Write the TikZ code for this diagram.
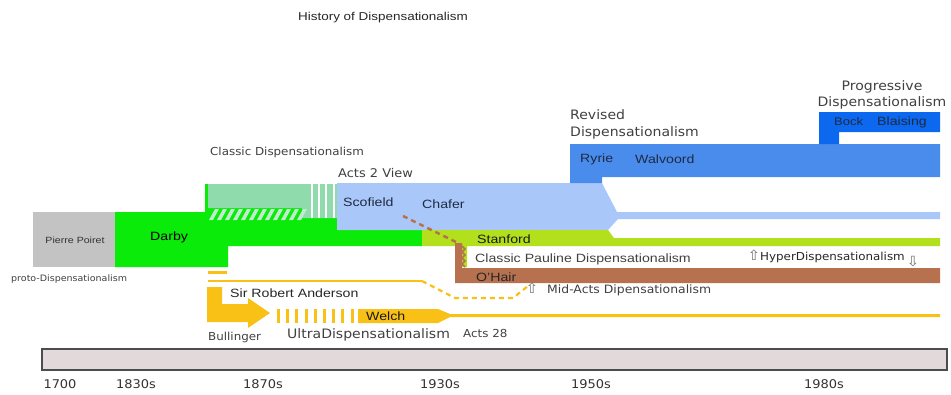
\documentclass[tikz,border=0pt]{standalone}
\usepackage{fontspec}
\setmainfont{Liberation Sans}[FakeStretch=1.18]
\newfontfamily\dvs{DejaVu Sans}[FakeStretch=1.08]
\newcommand{\fsz}[1]{\fontsize{#1}{#1}\selectfont}
\newcommand{\upar}{{\dvs\fsz{14}⇧}}
\newcommand{\dnar}{{\dvs\fsz{14}⇩}}
\definecolor{poiret}{HTML}{C3C3C3}
\definecolor{darby}{HTML}{0AEB0A}
\definecolor{classic}{HTML}{8FDBAB}
\definecolor{scofield}{HTML}{A9C8F9}
\definecolor{ryrie}{HTML}{4A8CEB}
\definecolor{progr}{HTML}{0C68EE}
\definecolor{stanford}{HTML}{B3E01C}
\definecolor{ohair}{HTML}{B7714E}
\definecolor{gold}{HTML}{F9C116}
\definecolor{timebar}{HTML}{E2DADA}
\definecolor{navy}{HTML}{1E2A44}

\begin{document}
\begin{tikzpicture}[x=1pt,y=-1pt]
                        \tikzstyle{lab}=[inner sep=0pt, anchor=west, font=\fsz{12}, text=black!85]
                        \tikzstyle{dlab}=[inner sep=0pt, anchor=west, font=\dvs\fsz{11}, text=black!75]
                        \tikzstyle{year}=[inner sep=0pt, font=\dvs\fsz{12}, text=black!80]
                        \tikzstyle{yel}=[draw=gold, line width=2.2pt]
                        \useasboundingbox (0,0) rectangle (951,394);
                        \node[inner sep=0pt, font=\fsz{11.4}, text=black!85] (title) at (383,18) {History of Dispensationalism};

                        \fill[poiret] (33,212) rectangle (115,267);
                        \fill[darby] (115,212) -- (205,212) -- (205,184) -- (337,184) -- (337,230) -- (422,230)
                            -- (422,246) -- (228,246) -- (228,267) -- (115,267) -- cycle;
                        \fill[classic] (208,184) -- (337,184) -- (337,218) -- (302,218) -- (302,208) -- (208,208) -- cycle;
                        \foreach \i in {0,...,11}
                            \fill[classic!55!white] (209+8*\i,220) -- (213+8*\i,220) -- (219+8*\i,209) -- (215+8*\i,209) -- cycle;
                        \foreach \x in {312,319,326,334}
                            \draw[white, line width=1.2pt] (\x,184) -- (\x,218);
                        \fill[scofield] (337,183) -- (602,183) -- (617,212) -- (940,212) -- (940,219) -- (618,219)
                            -- (608,230) -- (337,230) -- cycle;
                        \fill[stanford] (422,230) -- (608,230) -- (614,238) -- (940,238) -- (940,246) -- (467,246)
                            -- (467,267) -- (461,267) -- (461,246) -- (422,246) -- cycle;
                        \fill[ohair] (455,243) -- (462,243) -- (462,268) -- (940,268) -- (940,283) -- (455,283) -- cycle;
                        \draw[ohair, line width=1.5pt] (462,246) -- (465,249) -- (462,252) -- (465,255) -- (462,258)
                            -- (465,261) -- (462,264) -- (465,267);
                        \fill[ryrie] (570,144) -- (940,144) -- (940,177) -- (602,177) -- (602,183) -- (570,183) -- cycle;
                        \fill[progr] (819,112) -- (940,112) -- (940,132) -- (839,132) -- (839,144) -- (819,144) -- cycle;

                        \coordinate (chafer end) at (403,216);
                        \coordinate (ohair top) at (458,243);
                        \draw[ohair, line width=2.5pt, dash pattern=on 5pt off 4pt] (chafer end) -- (ohair top);

                        \draw[yel, line width=3pt] (208,272) -- (227,272);
                        \coordinate (anderson start) at (208,281);
                        \coordinate (anderson end) at (422,281);
                        \coordinate (midacts) at (528,286);
                        \draw[yel] (anderson start) -- (anderson end);
                        \draw[yel, dash pattern=on 5pt off 4pt] (anderson end) -- (455,298) -- (513,298) -- (midacts);
                        \fill[gold] (207,287) -- (222,287) -- (222,304) -- (248,304) -- (248,298) -- (270,313)
                            -- (248,328) -- (248,322) -- (207,322) -- cycle;
                        \foreach \i in {0,...,8}
                            \fill[gold] (277+9.2*\i,309) rectangle (280+9.2*\i,323);
                        \fill[gold] (358,309) -- (438,309) -- (450,314) -- (940,314) -- (940,317) -- (450,317)
                            -- (438,323) -- (358,323) -- cycle;

                        \draw[line width=2pt, draw=black!70, fill=timebar] (42,349) rectangle (947,370);

                        \node[inner sep=0pt, font=\fsz{9}, text=black!80] (poiret) at (75,240) {Pierre Poiret};
                        \node[dlab, font=\dvs\fsz{8.8}] (proto) at (11,279) {proto-Dispensationalism};
                        \node[lab, text=black] (darbylab) at (150,237) {Darby};
                        \node[dlab] (classiclab) at (210,152) {Classic Dispensationalism};
                        \node[dlab, font=\dvs\fsz{12}] (acts2) at (338,173) {Acts 2 View};
                        \node[lab, text=navy] (scofieldlab) at (343,202) {Scofield};
                        \node[lab, text=navy] (chaferlab) at (422,204) {Chafer};
                        \node[dlab, align=left, font=\dvs\fontsize{13}{17}\selectfont] (revised) at (570,124)
                            {Revised\\Dispensationalism};
                        \node[inner sep=0pt, align=center, font=\dvs\fontsize{13}{16}\selectfont, text=black!75]
                            (progressive) at (882,95) {Progressive\\Dispensationalism};
                        \node[lab, font=\fsz{11}, text=navy] (bock) at (834,122) {Bock};
                        \node[lab, text=navy] (blaising) at (877,122) {Blaising};
                        \node[lab, text=navy] (ryrielab) at (580,159) {Ryrie};
                        \node[lab, text=navy] (walvoord) at (635,159) {Walvoord};
                        \node[lab, text=black!90] (stanfordlab) at (477,239) {Stanford};
                        \node[lab, text=black!75] (pauline) at (475,259) {Classic Pauline Dispensationalism};
                        \node[lab, text=black!85] (ohairlab) at (476,277) {O'Hair};
                        \node[inner sep=0pt, text=black!55] (midup) at (532,288) {\upar};
                        \node[dlab, font=\dvs\fsz{11.5}] (midactslab) at (547,290) {Mid-Acts Dipensationalism};
                        \node[inner sep=0pt, text=black!55] (hyperup) at (754,255) {\upar};
                        \node[dlab, text=black!85] (hyper) at (760,257) {HyperDispensationalism};
                        \node[inner sep=0pt, text=black!55] (hyperdown) at (913,262) {\dnar};
                        \node[lab] (anderson) at (230,293) {Sir Robert Anderson};
                        \node[lab, text=black!90] (welch) at (366,316) {Welch};
                        \node[dlab] (bullinger) at (208,337) {Bullinger};
                        \node[dlab, font=\dvs\fsz{13}] (ultra) at (287,335) {UltraDispensationalism};
                        \node[dlab] (acts28) at (463,333) {Acts 28};

                        \node[year] (y1700) at (60,384) {1700};
                        \node[year] (y1830) at (136,384) {1830s};
                        \node[year] (y1870) at (263,384) {1870s};
                        \node[year] (y1930) at (440,384) {1930s};
                        \node[year] (y1950) at (591,384) {1950s};
                        \node[year] (y1980) at (824,384) {1980s};
                    \end{tikzpicture}
\end{document}
